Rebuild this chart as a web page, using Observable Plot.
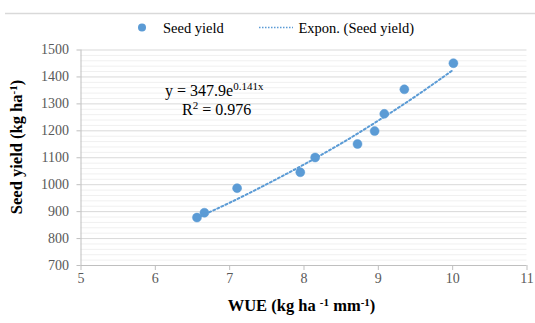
<!DOCTYPE html>
<html><head><meta charset="utf-8">
<script src="https://cdn.jsdelivr.net/npm/d3@7"></script>
<script src="https://cdn.jsdelivr.net/npm/@observablehq/plot@0.6"></script>
<style>
html,body{margin:0;padding:0;background:#fff;}
#chart{position:relative;width:535px;height:323px;}
#chart svg, #chart svg text, #chart svg tspan{font-family:"Liberation Serif","Times New Roman","DejaVu Serif",serif !important;}
</style></head>
<body><div id="chart"></div>
<script>
// Data
const wue = [6.56, 6.66, 7.10, 7.95, 8.15, 8.72, 8.95, 9.08, 9.35, 10.01];
const seedYield = [878, 896, 987, 1046, 1101, 1151, 1199, 1263, 1354, 1451];
// Exponential trendline as seen in the picture (y = 347.9e^0.141x)
const trendX = [6.56, 7.0, 7.5, 8.0, 8.5, 9.0, 9.5, 10.0];
const trendY = [877, 933, 1002, 1075, 1153, 1238, 1328, 1425];
const xTicks = [5, 6, 7, 8, 9, 10, 11];
const yTicks = [700, 800, 900, 1000, 1100, 1200, 1300, 1400, 1500];
const legendLabels = ["Seed yield", "Expon. (Seed yield)"];

const points = wue.map((x, i) => ({x, y: seedYield[i]}));
const trend = trendX.map((x, i) => ({x, y: trendY[i]}));
const minor = d3.range(720, 1500, 20).filter(v => v % 100 !== 0);

const blue = "#5b9bd5";
const serif = "Liberation Serif, Times New Roman, DejaVu Serif, serif";

const chart = Plot.plot({
  width: 535, height: 323,
  marginLeft: 80.5, marginRight: 8.5, marginTop: 49.5, marginBottom: 58,
  style: {background: "#fff", fontFamily: serif},
  x: {domain: [5, 11]},
  y: {domain: [700, 1500]},
  marks: [
    Plot.ruleY(minor, {stroke: "#f0f0f0"}),
    Plot.ruleY(yTicks.filter(v => v > 700), {stroke: "#d9d9d9"}),
    Plot.ruleX([5], {y1: 700, y2: 1500, stroke: "#bfbfbf"}),
    Plot.ruleY([700], {stroke: "#bfbfbf"}),
    Plot.axisY(yTicks, {tickSize: 4, tickPadding: 8, stroke: "#bfbfbf", fill: "#595959", fontSize: 14, label: null, tickFormat: d => String(d)}),
    Plot.axisX(xTicks, {tickSize: 5, tickPadding: 3, stroke: "#bfbfbf", fill: "#595959", fontSize: 14, label: null, tickFormat: d => String(d)}),
    Plot.line(trend, {x: "x", y: "y", stroke: blue, strokeWidth: 2, strokeDasharray: "2 2.5", curve: "natural"}),
    Plot.dot(points, {x: "x", y: "y", r: 4.5, fill: blue, stroke: blue, strokeWidth: 0.5})
  ]
});
document.getElementById("chart").appendChild(chart);

const svg = d3.select(chart);
const sx = chart.scale("x");
svg.selectAll("text").style("font-family", serif);

// top border
svg.append("line").attr("x1", 5).attr("x2", 535).attr("y1", 13.5).attr("y2", 13.5)
  .attr("stroke", "#d9d9d9").attr("stroke-width", 1.5);

// legend
const lg = svg.append("g").attr("font-size", 14.5).attr("fill", "#000").attr("text-anchor", "start").style("font-family", serif);
lg.append("circle").attr("cx", 142).attr("cy", 27.5).attr("r", 4).attr("fill", blue);
lg.append("text").attr("x", 163).attr("y", 32.5).text(legendLabels[0]);
lg.append("line").attr("x1", 259).attr("x2", 293).attr("y1", 27.5).attr("y2", 27.5)
  .attr("stroke", blue).attr("stroke-width", 1.5).attr("stroke-dasharray", "1.5 1.5");
lg.append("text").attr("x", 298.5).attr("y", 32.5).text(legendLabels[1]);

// equation
const eq = svg.append("g").attr("font-size", 16).attr("fill", "#000").attr("text-anchor", "start").style("font-family", serif);
const t1 = eq.append("text").attr("x", 165).attr("y", 95.5);
t1.append("tspan").text("y = 347.9e");
t1.append("tspan").attr("dy", -6).attr("font-size", 11).text("0.141x");
const t2 = eq.append("text").attr("x", 182).attr("y", 115);
t2.append("tspan").text("R");
t2.append("tspan").attr("dy", -6).attr("font-size", 11).text("2");
t2.append("tspan").attr("dy", 6).text(" = 0.976");

// axis titles
const xt = svg.append("text").attr("x", (sx.range[0] + sx.range[1]) / 2 - 2).attr("y", 311)
  .attr("text-anchor", "middle").attr("font-weight", "bold").attr("font-size", 16.5).style("font-family", serif);
xt.append("tspan").text("WUE (kg ha ");
xt.append("tspan").attr("dy", -5).attr("font-size", 11).text("-1");
xt.append("tspan").attr("dy", 5).text(" mm");
xt.append("tspan").attr("dy", -5).attr("font-size", 11).text("-1");
xt.append("tspan").attr("dy", 5).text(")");

const yt = svg.append("text").attr("transform", "translate(22,147) rotate(-90)")
  .attr("text-anchor", "middle").attr("font-weight", "bold").attr("font-size", 16.5).style("font-family", serif);
yt.append("tspan").text("Seed yield (kg ha");
yt.append("tspan").attr("dy", -5).attr("font-size", 11).text("-1");
yt.append("tspan").attr("dy", 5).text(")");
</script>
</body></html>
